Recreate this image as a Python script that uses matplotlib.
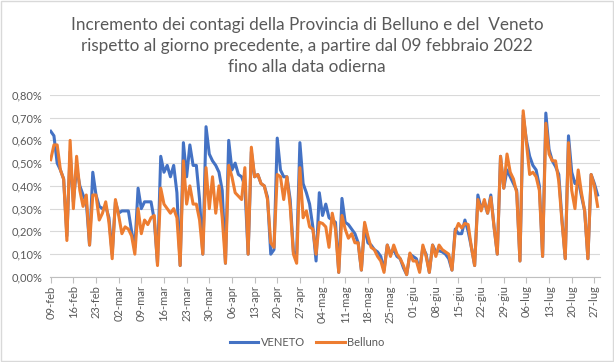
import matplotlib
matplotlib.use("Agg")
import matplotlib.pyplot as plt
import numpy as np
from matplotlib.patches import Rectangle
from matplotlib.ticker import FuncFormatter

# incremento giornaliero (%) dal 09-feb-2022
veneto = [
    0.64, 0.62, 0.50, 0.47, 0.43, 0.18, 0.55, 0.33, 0.48, 0.40,
    0.36, 0.33, 0.14, 0.46, 0.36, 0.31, 0.30, 0.31, 0.26, 0.10,
    0.33, 0.28, 0.29, 0.29, 0.29, 0.20, 0.13, 0.39, 0.30, 0.33,
    0.33, 0.33, 0.25, 0.06, 0.53, 0.46, 0.49, 0.44, 0.49, 0.37,
    0.05, 0.59, 0.44, 0.58, 0.49, 0.49, 0.34, 0.10, 0.66, 0.54,
    0.51, 0.49, 0.46, 0.38, 0.06, 0.60, 0.47, 0.50, 0.45, 0.44,
    0.40, 0.10, 0.55, 0.44, 0.45, 0.41, 0.40, 0.35, 0.10, 0.12,
    0.61, 0.47, 0.44, 0.44, 0.34, 0.11, 0.10, 0.59, 0.41, 0.37,
    0.32, 0.22, 0.07, 0.37, 0.27, 0.32, 0.26, 0.25, 0.24, 0.02,
    0.345, 0.24, 0.23, 0.21, 0.19, 0.15, 0.03, 0.23, 0.15, 0.14,
    0.12, 0.11, 0.09, 0.03, 0.14, 0.10, 0.12, 0.09, 0.08, 0.04,
    0.01, 0.10, 0.09, 0.08, 0.03, 0.13, 0.10, 0.02, 0.14, 0.11,
    0.115, 0.11, 0.10, 0.08, 0.03, 0.21, 0.19, 0.19, 0.25, 0.20,
    0.13, 0.05, 0.36, 0.30, 0.33, 0.28, 0.36, 0.22, 0.10, 0.53,
    0.39, 0.47, 0.44, 0.41, 0.38, 0.07, 0.71, 0.60, 0.53, 0.49,
    0.47, 0.40, 0.09, 0.72, 0.56, 0.51, 0.485, 0.45, 0.25, 0.08,
    0.62, 0.46, 0.41, 0.43, 0.355, 0.29, 0.08, 0.45, 0.41, 0.36,
]

belluno = [
    0.515, 0.58, 0.58, 0.47, 0.43, 0.16, 0.60, 0.30, 0.53, 0.38,
    0.31, 0.36, 0.14, 0.36, 0.36, 0.25, 0.28, 0.33, 0.24, 0.08,
    0.34, 0.27, 0.19, 0.22, 0.21, 0.18, 0.10, 0.30, 0.19, 0.25,
    0.23, 0.26, 0.27, 0.05, 0.39, 0.32, 0.30, 0.28, 0.30, 0.26,
    0.05, 0.51, 0.32, 0.40, 0.32, 0.32, 0.25, 0.10, 0.48, 0.30,
    0.44, 0.28, 0.40, 0.26, 0.06, 0.49, 0.44, 0.37, 0.355, 0.34,
    0.48, 0.10, 0.57, 0.44, 0.45, 0.41, 0.40, 0.34, 0.15, 0.13,
    0.45, 0.44, 0.34, 0.44, 0.31, 0.10, 0.06, 0.48, 0.26, 0.29,
    0.22, 0.21, 0.10, 0.24, 0.235, 0.22, 0.13, 0.28, 0.21, 0.02,
    0.27, 0.21, 0.17, 0.19, 0.15, 0.15, 0.03, 0.24, 0.18, 0.13,
    0.12, 0.09, 0.07, 0.02, 0.14, 0.09, 0.14, 0.10, 0.08, 0.05,
    0.01, 0.105, 0.07, 0.07, 0.02, 0.14, 0.09, 0.02, 0.14, 0.09,
    0.14, 0.12, 0.11, 0.10, 0.03, 0.20, 0.235, 0.215, 0.235, 0.23,
    0.13, 0.05, 0.34, 0.29, 0.34, 0.28, 0.35, 0.22, 0.10, 0.53,
    0.39, 0.54, 0.46, 0.43, 0.37, 0.07, 0.73, 0.59, 0.45, 0.46,
    0.44, 0.38, 0.09, 0.675, 0.54, 0.51, 0.51, 0.42, 0.24, 0.08,
    0.59, 0.38, 0.30, 0.47, 0.37, 0.29, 0.08, 0.45, 0.40, 0.31,
]

tick_labels = [
    "09-feb", "16-feb", "23-feb", "02-mar", "09-mar", "16-mar", "23-mar",
    "30-mar", "06-apr", "13-apr", "20-apr", "27-apr", "04-mag", "11-mag",
    "18-mag", "25-mag", "01-giu", "08-giu", "15-giu", "22-giu", "29-giu",
    "06-lug", "13-lug", "20-lug", "27-lug",
]

titolo = ("Incremento dei contagi della Provincia di Belluno e del  Veneto\n"
          "rispetto al giorno precedente, a partire dal 09 febbraio 2022\n"
          "fino alla data odierna")

plt.rcParams["font.family"] = ["Lato", "DejaVu Sans"]
grigio = "#595959"

giorni = np.arange(len(veneto))

fig = plt.figure(figsize=(6.14, 3.62), dpi=100)
ax = fig.add_axes([0.081, 0.235, 0.896, 0.503])

ax.plot(giorni, veneto, color="#4472C4", lw=2.2, label="VENETO", solid_joinstyle="round")
ax.plot(giorni, belluno, color="#ED7D31", lw=2.2, label="Belluno", solid_joinstyle="round")

ax.set_ylim(0, 0.8)
ax.set_yticks(np.arange(0, 0.81, 0.1))
ax.yaxis.set_major_formatter(FuncFormatter(lambda v, p: f"{v:.2f}%".replace(".", ",")))
ax.set_xlim(-0.3, len(veneto) - 0.3)
ax.set_xticks(giorni[::7][:len(tick_labels)])
ax.set_xticklabels(tick_labels, rotation=90)

ax.grid(axis="y", color="#D9D9D9", lw=0.8)
ax.set_axisbelow(True)
for s in ["top", "right", "left"]:
    ax.spines[s].set_visible(False)
ax.spines["bottom"].set_color("#BFBFBF")
ax.tick_params(axis="y", length=0, labelsize=8, labelcolor=grigio, pad=5)
ax.tick_params(axis="x", length=4, color="#BFBFBF", labelsize=8, labelcolor=grigio, pad=2)

fig.text(0.5, 0.873, titolo, ha="center", va="center", fontsize=12.3,
         color=grigio, linespacing=1.4)

fig.legend(loc="center", bbox_to_anchor=(0.5, 0.055), ncol=2, frameon=False,
           fontsize=8, labelcolor=grigio, handlelength=2.6, handletextpad=0.2,
           columnspacing=1.0)

fig.patches.append(Rectangle((0.002, 0.003), 0.996, 0.994, transform=fig.transFigure,
                             fill=False, edgecolor="#D9D9D9", lw=1))

fig.savefig("out.png", dpi=100)
